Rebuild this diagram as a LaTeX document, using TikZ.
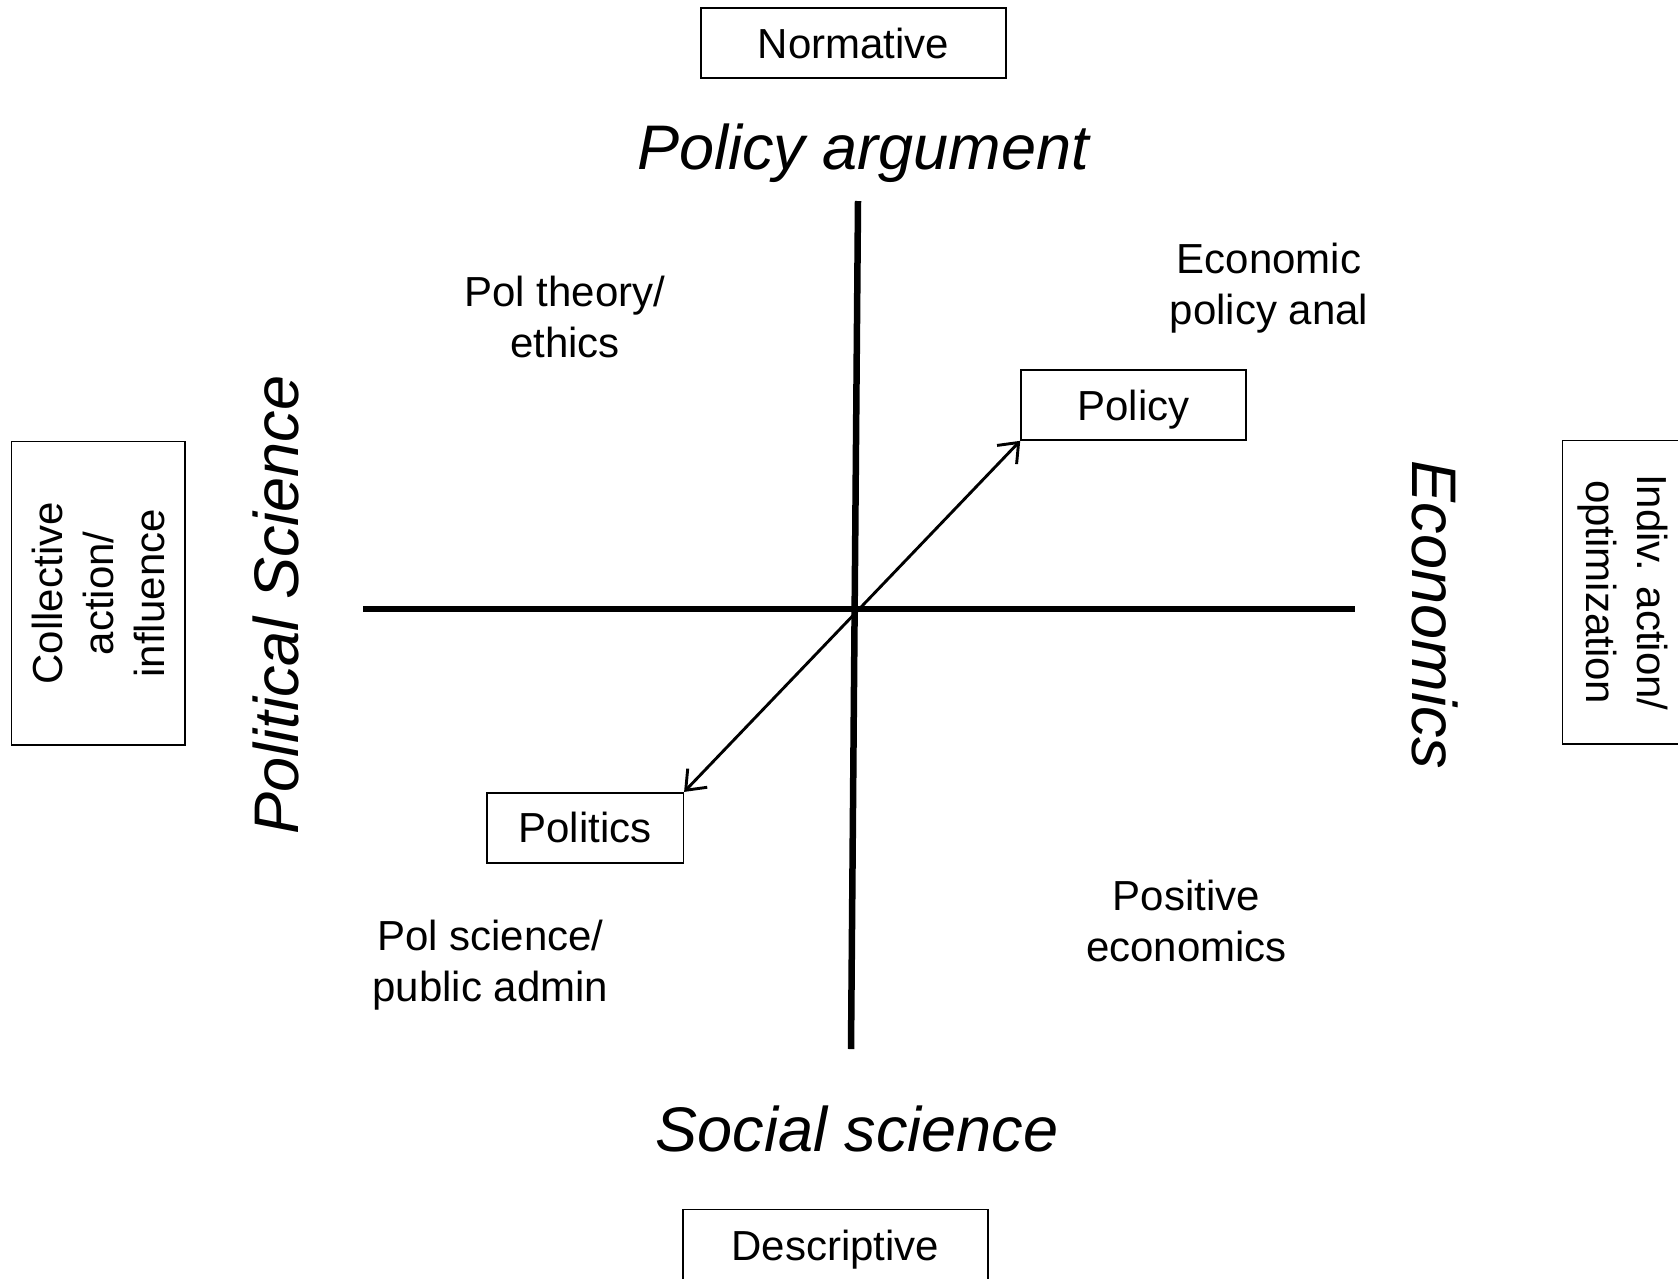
\documentclass[tikz,border=0pt]{standalone}
\usepackage{fontspec}
\setmainfont{Liberation Sans}
\usetikzlibrary{arrows.meta}
\begin{document}
\begin{tikzpicture}[x=1pt,y=-1pt,
  txt/.style={font=\fontsize{42}{51}\selectfont, align=center, inner sep=0pt},
  frame/.style={draw, line width=1.6pt, font=\fontsize{42}{51}\selectfont, align=center, inner sep=0pt},
  oneline/.style={text height=30pt, text depth=0pt},
  big/.style={font=\fontsize{63}{75}\selectfont\itshape, inner sep=0pt},
  axis/.style={line width=6.5pt},
  link/.style={line width=2.9pt, {Straight Barb[length=17pt,width=27pt]}-{Straight Barb[length=17pt,width=27pt]}}
]
\useasboundingbox (0,0) rectangle (1678,1278);

% boxes at the ends of the two axes
\node[frame, oneline, minimum width=305pt, minimum height=70.5pt] (normative) at (853.5,43) {Normative};
\node[frame, oneline, minimum width=305pt, minimum height=72pt] (descriptive) at (835.5,1245.5) {Descriptive};
\node[frame, rotate=90, minimum width=303.3pt, minimum height=173.3pt] (collective) at (98.3,593.3) {Collective\\action/\\influence};
\node[frame, rotate=-90, minimum width=303.3pt, minimum height=120pt] (indiv) at (1622.5,592.3) {Indiv. action/\\optimization};

% axis titles
\node[big, anchor=base] (polarg) at (863,169) {Policy argument};
\node[big, anchor=base] (socsci) at (857,1151) {Social science};
\node[big, anchor=base, rotate=90] (polscience) at (298,605) {Political Science};
\node[big, anchor=base, rotate=-90] (economics) at (1412,615) {Economics};

% quadrant labels
\node[txt] (econpol) at (1269,288) {Economic\\policy anal};
\node[txt] (poltheory) at (565,316.5) {Pol theory/\\ethics};
\node[txt] (polsci) at (490.5,965) {Pol science/\\public admin};
\node[txt] (poseco) at (1186.5,921) {Positive\\economics};

% the two axes
\coordinate (vtop) at (858,201);
\coordinate (vbot) at (851,1049);
\coordinate (hleft) at (363,609);
\coordinate (hright) at (1355,609);
\draw[axis] (vtop) -- (vbot);
\draw[axis] (hleft) -- (hright);

% policy / politics boxes and the diagonal
\node[frame, oneline, minimum width=225pt, minimum height=70pt] (policy) at (1133.5,405) {Policy};
\node[frame, oneline, minimum width=196.6pt, minimum height=70pt] (politics) at (585,827.7) {Politics};
\draw[link] (politics.north east) -- (policy.south west);
\end{tikzpicture}
\end{document}
